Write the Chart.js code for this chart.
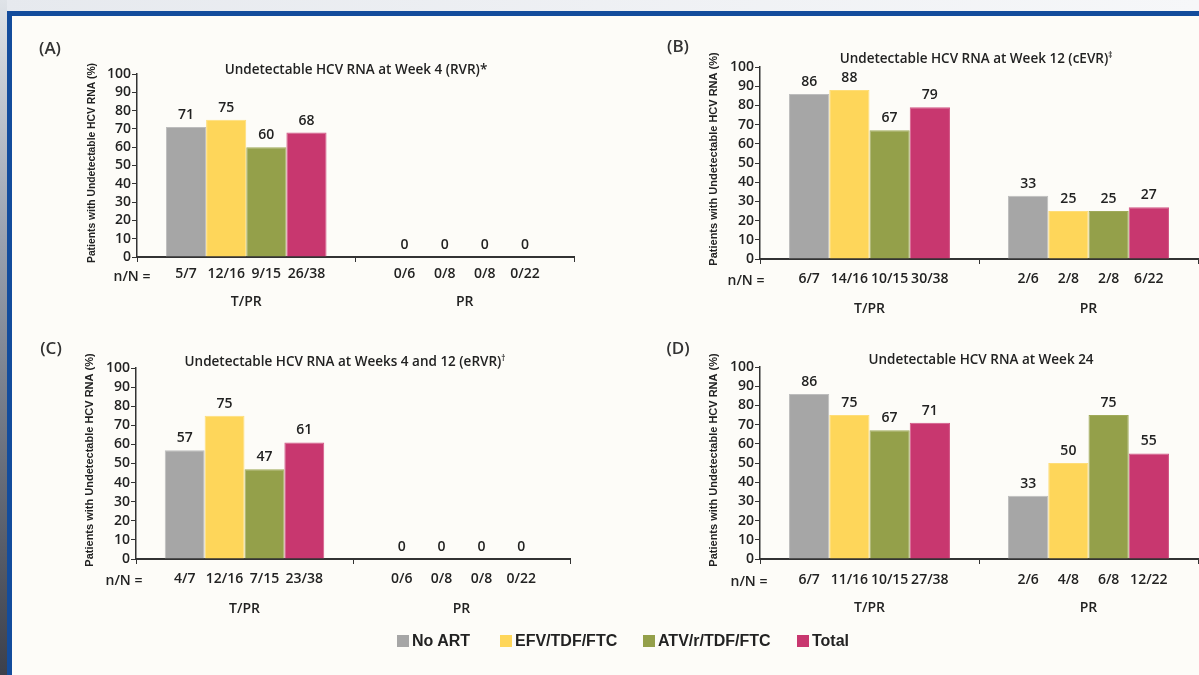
<!DOCTYPE html>
<html><head><meta charset="utf-8">
<script src="https://cdn.jsdelivr.net/npm/chart.js@4.4.1/dist/chart.umd.min.js"></script>
<style>
html,body{margin:0;padding:0;}
body{width:1199px;height:675px;position:relative;overflow:hidden;background:#eceef1;font-family:'Open Sans','Liberation Sans',sans-serif;color:#222;}
.abs{position:absolute;}
canvas{position:absolute;left:0;top:0;}
.c{position:absolute;transform:translate(-50%,-50%);white-space:nowrap;}
.letter{font-size:17px;font-weight:600;color:#333;}
.ttl{font-size:13.5px;font-weight:600;color:#222;}
.nn{font-size:14px;font-weight:600;color:#222;}
.leg{position:absolute;top:633px;font-family:'Liberation Sans',Arial,sans-serif;font-weight:bold;font-size:16px;color:#222;height:16px;line-height:16px;white-space:nowrap;}
.sw{position:absolute;width:12px;height:12px;top:635px;}
</style></head><body>
<div class="abs" style="left:0;top:0;width:1199px;height:11px;background:linear-gradient(90deg,#e6e9ee,#f6f7f9)"></div>
<div class="abs" style="left:0;top:0;width:7px;height:675px;background:linear-gradient(#dfe3e8,#9aa2b0 35%,#3c404b)"></div>
<div class="abs" style="left:7px;top:11px;width:1192px;height:5px;background:#134c9c"></div>
<div class="abs" style="left:7px;top:11px;width:5px;height:664px;background:#134c9c"></div>
<div class="abs" style="left:12px;top:16px;width:1187px;height:659px;background:#fdfcf8"></div>

<canvas id="cA" width="1199" height="675"></canvas>
<canvas id="cB" width="1199" height="675"></canvas>
<canvas id="cC" width="1199" height="675"></canvas>
<canvas id="cD" width="1199" height="675"></canvas>

<div class="c letter" style="left:50px;top:47px">(A)</div>
<div class="c letter" style="left:678px;top:45px">(B)</div>
<div class="c letter" style="left:51px;top:347px">(C)</div>
<div class="c letter" style="left:678px;top:347px">(D)</div>

<div class="c ttl" style="left:356px;top:69px">Undetectable HCV RNA at Week 4 (RVR)*</div>
<div class="c ttl" style="left:976px;top:58px">Undetectable HCV RNA at Week 12 (cEVR)<sup style="font-size:8px">‡</sup></div>
<div class="c ttl" style="left:345px;top:361px">Undetectable HCV RNA at Weeks 4 and 12 (eRVR)<sup style="font-size:8px">†</sup></div>
<div class="c ttl" style="left:981px;top:359px">Undetectable HCV RNA at Week 24</div>

<div class="c nn" style="left:132px;top:275px">n/N =</div>
<div class="c nn" style="left:746px;top:279px">n/N =</div>
<div class="c nn" style="left:124px;top:579px">n/N =</div>
<div class="c nn" style="left:749px;top:580px">n/N =</div>

<div id="legend"></div>

<script>
// ---------- data ----------
const categories = ["T/PR", "PR"];
const seriesNames = ["No ART", "EFV/TDF/FTC", "ATV/r/TDF/FTC", "Total"];
const seriesColors = ["#a6a6a6", "#fed65a", "#94a04a", "#c8376f"];
const seriesBorders = ["#bdbdbd", "#fedd78", "#a0aa5a", "#d25585"];
const yTicks = [0, 10, 20, 30, 40, 50, 60, 70, 80, 90, 100];
const yTitle = "Patients with Undetectable HCV RNA (%)";

// (A) Week 4 (RVR)
const aNoArt = [71, 0];
const aEfv = [75, 0];
const aAtv = [60, 0];
const aTotal = [68, 0];
const aNoArtN = ["5/7", "0/6"];
const aEfvN = ["12/16", "0/8"];
const aAtvN = ["9/15", "0/8"];
const aTotalN = ["26/38", "0/22"];

// (B) Week 12 (cEVR)
const bNoArt = [86, 33];
const bEfv = [88, 25];
const bAtv = [67, 25];
const bTotal = [79, 27];
const bNoArtN = ["6/7", "2/6"];
const bEfvN = ["14/16", "2/8"];
const bAtvN = ["10/15", "2/8"];
const bTotalN = ["30/38", "6/22"];

// (C) Weeks 4 and 12 (eRVR)
const cNoArt = [57, 0];
const cEfv = [75, 0];
const cAtv = [47, 0];
const cTotal = [61, 0];
const cNoArtN = ["4/7", "0/6"];
const cEfvN = ["12/16", "0/8"];
const cAtvN = ["7/15", "0/8"];
const cTotalN = ["23/38", "0/22"];

// (D) Week 24
const dNoArt = [86, 33];
const dEfv = [75, 50];
const dAtv = [67, 75];
const dTotal = [71, 55];
const dNoArtN = ["6/7", "2/6"];
const dEfvN = ["11/16", "4/8"];
const dAtvN = ["10/15", "6/8"];
const dTotalN = ["27/38", "12/22"];

// ---------- layout ----------
const W = 1199, H = 675;
const FONT = "'Open Sans','Liberation Sans',sans-serif";
Chart.defaults.font.family = FONT;
Chart.defaults.color = '#222';

function labelPlugin(p) {
  return {
    id: 'lbl' + p.id,
    afterDatasetsDraw(chart) {
      const ctx = chart.ctx;
      const area = chart.chartArea;
      ctx.save();
      ctx.fillStyle = '#222';
      ctx.textAlign = 'center';
      ctx.textBaseline = 'middle';
      ctx.font = "600 14px " + FONT;
      chart.data.datasets.forEach((ds, i) => {
        const meta = chart.getDatasetMeta(i);
        meta.data.forEach((bar, j) => {
          ctx.fillText(String(ds.data[j]), bar.x, bar.y - 12);
          ctx.fillText(ds.nN[j], bar.x, area.bottom + p.nnOff);
        });
      });
      // y-axis title
      ctx.translate(p.yt[0], p.yt[1]);
      ctx.rotate(-Math.PI / 2);
      ctx.font = "bold 11px 'Liberation Sans', Arial, sans-serif";
      ctx.fillText(yTitle, 0, 0, p.yt[2]);
      ctx.restore();
    }
  };
}

function makeChart(p) {
  const YW = 30, XH = 60;
  return new Chart(document.getElementById(p.id), {
    type: 'bar',
    data: {
      labels: categories,
      datasets: seriesNames.map((n, i) => ({
        label: n, data: p.values[i], nN: p.nN[i],
        backgroundColor: seriesColors[i], borderColor: seriesBorders[i], borderWidth: 1
      }))
    },
    options: {
      responsive: false, animation: false, devicePixelRatio: 1,
      events: [],
      layout: { padding: { left: p.left - YW, right: W - p.right, top: p.top, bottom: H - p.bottom - XH } },
      plugins: { legend: { display: false }, tooltip: { enabled: false }, title: { display: false } },
      datasets: { bar: { categoryPercentage: 0.735, barPercentage: 1 } },
      scales: {
        x: {
          afterFit: s => { s.height = XH; },
          grid: { display: true, drawOnChartArea: false, drawTicks: true, tickLength: 5, color: '#333', offset: true },
          border: { display: true, color: '#333', width: 2 },
          ticks: { padding: p.catPad, color: '#222', font: { size: 14, weight: '600' } }
        },
        y: {
          min: 0, max: 100,
          afterFit: s => { s.width = YW; },
          afterBuildTicks: s => { s.ticks = yTicks.map(v => ({ value: v })); },
          grid: { display: true, drawOnChartArea: false, drawTicks: true, tickLength: 5, color: '#333' },
          border: { display: true, color: '#333', width: 1.5 },
          ticks: { padding: 1, autoSkip: false, color: '#222', font: { size: 14, weight: '600' } }
        }
      }
    },
    plugins: [labelPlugin(p)]
  });
}

const panels = [
  { id: 'cA', left: 137, right: 574, top: 74, bottom: 257, catPad: 32, nnOff: 17, yt: [92, 163, 200],
    values: [aNoArt, aEfv, aAtv, aTotal], nN: [aNoArtN, aEfvN, aAtvN, aTotalN] },
  { id: 'cB', left: 760, right: 1198, top: 67, bottom: 259, catPad: 37, nnOff: 20, yt: [714, 159, 222],
    values: [bNoArt, bEfv, bAtv, bTotal], nN: [bNoArtN, bEfvN, bAtvN, bTotalN] },
  { id: 'cC', left: 136, right: 570, top: 368, bottom: 559, catPad: 37, nnOff: 20, yt: [90, 460, 216],
    values: [cNoArt, cEfv, cAtv, cTotal], nN: [cNoArtN, cEfvN, cAtvN, cTotalN] },
  { id: 'cD', left: 760, right: 1198, top: 367, bottom: 559, catPad: 36, nnOff: 21, yt: [714, 460, 221],
    values: [dNoArt, dEfv, dAtv, dTotal], nN: [dNoArtN, dEfvN, dAtvN, dTotalN] }
];
panels.forEach(makeChart);

// ---------- legend ----------
const legX = [397, 500, 643, 797];
const legEl = document.getElementById('legend');
seriesNames.forEach((n, i) => {
  const sw = document.createElement('div');
  sw.className = 'sw';
  sw.style.left = legX[i] + 'px';
  sw.style.background = seriesColors[i];
  legEl.appendChild(sw);
  const t = document.createElement('div');
  t.className = 'leg';
  t.style.left = (legX[i] + 15) + 'px';
  t.textContent = n;
  legEl.appendChild(t);
});
</script>
</body></html>
